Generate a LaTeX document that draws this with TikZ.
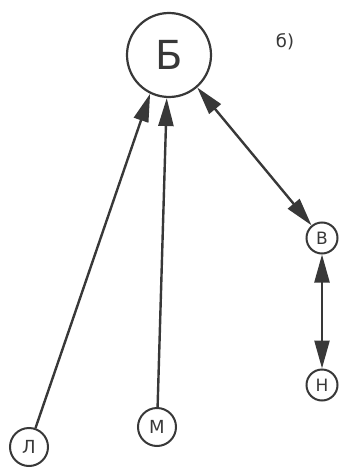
\documentclass[tikz,border=0pt]{standalone}
\usepackage{fontspec}
\setmainfont{DejaVu Sans}
\usetikzlibrary{arrows.meta}
\definecolor{ink}{HTML}{383838}
\tikzset{
  big/.style={circle,draw=ink,line width=2.2pt,minimum size=84pt,inner sep=0pt,font=\fontsize{40}{40}\selectfont,text=ink},
  small/.style={circle,draw=ink,line width=2pt,minimum size=38pt,inner sep=0pt,font=\fontsize{18}{18}\selectfont,text=ink},
  tiny/.style={circle,draw=ink,line width=2pt,minimum size=31pt,inner sep=0pt,font=\fontsize{17}{17}\selectfont,text=ink},
  edge/.style={draw=ink,line width=2.4pt},
  >={Triangle[length=28pt,width=15pt]}
}
\begin{document}
\begin{tikzpicture}[x=1pt,y=-1pt]
\useasboundingbox (0,0) rectangle (344,468);
\node[big] (B) at (169,55) {Б};
\node[tiny] (V) at (322,238) {В};
\node[tiny] (N) at (322,385) {Н};
\node[small] (L) at (29,447) {Л};
\node[small] (M) at (157,427) {М};
\node[font=\fontsize{18}{18}\selectfont,text=ink] (lbl) at (285,42) {б)};
\draw[edge,->] (L) -- (B.244);
\draw[edge,->] (M) -- (B.267);
\draw[edge,<->] (B.311) -- (V);
\draw[edge,<->] (V) -- (N);
\end{tikzpicture}
\end{document}
